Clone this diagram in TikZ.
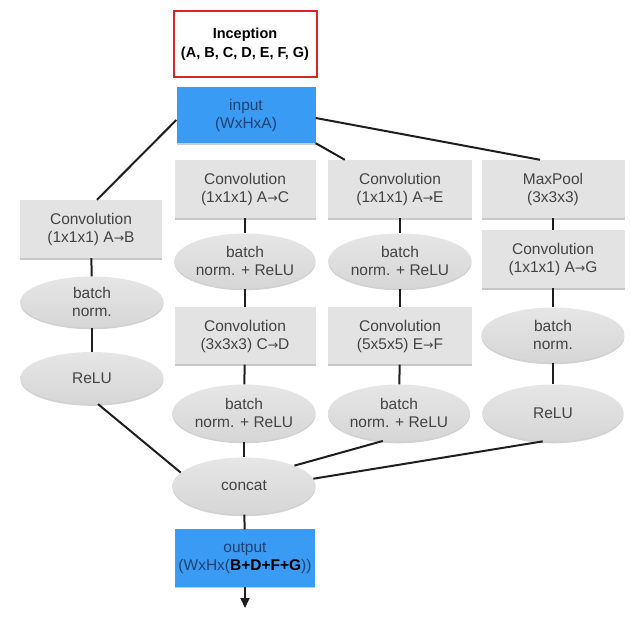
\documentclass[tikz,border=0pt]{standalone}
\usepackage{fontspec}
\setmainfont{Liberation Sans}
\newfontfamily\arrowfont{DejaVu Sans}
\usetikzlibrary{shapes.geometric,shadows,arrows.meta,calc}

\definecolor{boxgray}{HTML}{E3E3E3}
\definecolor{ellgraytop}{HTML}{E6E6E6}
\definecolor{ellgraybot}{HTML}{D6D6D6}
\definecolor{txtgray}{HTML}{434343}
\definecolor{blockblue}{HTML}{3A9BF4}
\definecolor{bluetxt}{HTML}{23416E}
\definecolor{framered}{HTML}{D9262B}
\definecolor{linecol}{HTML}{1E1E1E}

\newcommand{\ar}{{\arrowfont\fontsize{12.5}{14}\selectfont→}}

\tikzset{
  lbl/.style={font=\fontsize{15.5}{18}\selectfont, align=center, text=txtgray},
  convbox/.style={lbl, rectangle, fill=boxgray, minimum width=142pt, minimum height=58pt,
    general shadow={fill=black!22, shadow yshift=-1.8pt}},
  ellbox/.style={lbl, ellipse, top color=ellgraytop, bottom color=ellgraybot, minimum width=143pt,
    minimum height=56pt, inner sep=0pt,
    general shadow={fill=black!18, shadow yshift=-1.8pt}},
  bluebox/.style={lbl, rectangle, fill=blockblue, text=bluetxt, minimum width=139pt, minimum height=56pt,
    general shadow={fill=black!20, shadow yshift=-1.6pt}},
  link/.style={draw=linecol, line width=2pt},
}

\begin{document}
\begin{tikzpicture}[x=1pt,y=-1pt]
\useasboundingbox (0,0) rectangle (630,620);

% title frame
\node[draw=framered, line width=2pt, minimum width=143pt, minimum height=66pt, align=center,
  font=\bfseries\fontsize{14.5}{19}\selectfont] (title) at (245,44) {Inception\\(A, B, C, D, E, F, G)};

% input block
\node[bluebox] (input) at (246,115) {input\\(WxHxA)};

% branch 1
\node[convbox] (convB) at (91,229) {Convolution\\(1x1x1) A\ar B};
\node[ellbox, minimum height=51pt] (bnB) at (92,302) {batch\\norm.};
\node[ellbox, minimum height=52pt] (reluB) at (92,378) {ReLU};

% branch 2
\node[convbox, minimum width=141pt] (convC) at (245,189) {Convolution\\(1x1x1) A\ar C};
\node[ellbox, minimum width=141pt, minimum height=55pt] (bnrC) at (245,261) {batch\\norm. + ReLU};
\node[convbox, minimum width=141pt, minimum height=57pt] (convD) at (245,336) {Convolution\\(3x3x3) C\ar D};
\node[ellbox, minimum height=57pt] (bnrD) at (244,413) {batch\\norm. + ReLU};

% branch 3
\node[convbox, minimum width=144pt] (convE) at (400,189) {Convolution\\(1x1x1) A\ar E};
\node[ellbox, minimum height=55pt] (bnrE) at (400,261) {batch\\norm. + ReLU};
\node[convbox, minimum width=144pt, minimum height=57pt] (convF) at (400,336) {Convolution\\(5x5x5) E\ar F};
\node[ellbox, minimum width=142pt, minimum height=57pt] (bnrF) at (399,413) {batch\\norm. + ReLU};

% branch 4
\node[convbox, minimum width=143pt] (pool) at (553,189) {MaxPool\\(3x3x3)};
\node[convbox, minimum width=143pt] (convG) at (553,259) {Convolution\\(1x1x1) A\ar G};
\node[ellbox, minimum height=55pt] (bnG) at (553,335) {batch\\norm.};
\node[ellbox, minimum width=141pt, minimum height=57pt] (reluG) at (553,413) {ReLU};

% merge and output
\node[ellbox, minimum height=57pt] (concat) at (244,486) {concat};
\node[bluebox, minimum width=140pt, minimum height=57pt] (output) at (245,558)
  {output\\(WxHx(\textcolor{black}{\bfseries B+D+F+G}))};
\coordinate (outend) at (245,608);

% fan-out from the input
\draw[link] ($(input.west)+(0,5)$) -- ($(convB.north)+(6,0)$);
\draw[link] (input.south east) -- ($(convE.north west)+(17,0)$);
\draw[link] ($(input.east)+(0,3)$) -- ($(pool.north)+(-13,0)$);

% chains inside each branch
\draw[link] (convB) -- (bnB);
\draw[link] (bnB) -- (reluB);
\draw[link] (convC) -- (bnrC);
\draw[link] (bnrC) -- (convD);
\draw[link] (convD) -- (bnrD);
\draw[link] (convE) -- (bnrE);
\draw[link] (bnrE) -- (convF);
\draw[link] (convF) -- (bnrF);
\draw[link] (pool) -- (convG);
\draw[link] (convG) -- (bnG);
\draw[link] (bnG) -- (reluG);

% fan-in to concat
\draw[link] (reluB.283) -- (concat.168);
\draw[link] (bnrD) -- (concat);
\draw[link] (bnrF.240) -- (concat.22);
\draw[link] (reluG.250) -- (concat.6);
\draw[link] (concat) -- (output);
\draw[link, -{Triangle[length=10pt,width=9pt]}] (output) -- (outend);
\end{tikzpicture}
\end{document}
